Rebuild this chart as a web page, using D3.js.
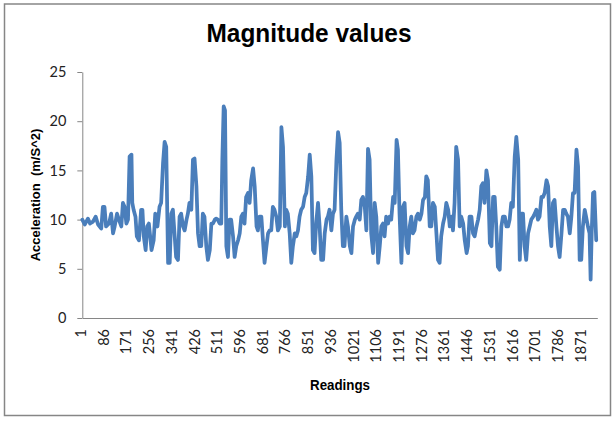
<!DOCTYPE html>
<html>
<head>
<meta charset="utf-8">
<script src="https://cdn.jsdelivr.net/npm/d3@7"></script>
<style>
  body { margin: 0; background: #fff; }
</style>
</head>
<body>
<div id="plot"></div>
<script>
// Readings (x) and acceleration magnitude (y)
const readings = [
    1, 10, 22, 30, 41, 51, 60, 72, 78, 84, 90, 101, 109, 116, 122, 131, 138, 147, 153, 159,
    166, 172, 178, 185, 188, 193, 200, 205, 213, 221, 226, 231, 238, 244, 250, 255, 260, 268, 274, 282,
    290, 296, 303, 309, 315, 322, 328, 334, 340, 346, 352, 359, 365, 371, 378, 384, 391, 396, 402, 409,
    415, 421, 428, 434, 440, 446, 452, 458, 465, 471, 478, 484, 490, 497, 502, 508, 515, 521, 525, 530,
    535, 540, 546, 552, 558, 565, 571, 577, 584, 590, 596, 602, 608, 614, 621, 627, 633, 640, 646, 653,
    658, 664, 671, 677, 683, 690, 696, 702, 708, 714, 720, 727, 733, 740, 746, 752, 759, 764, 770, 777,
    783, 789, 796, 802, 808, 814, 820, 827, 833, 839, 846, 852, 858, 864, 870, 876, 883, 889, 895, 902,
    908, 915, 920, 926, 933, 939, 945, 952, 958, 964, 970, 976, 982, 989, 995, 1002, 1008, 1014, 1021, 1026,
    1032, 1039, 1045, 1051, 1058, 1064, 1070, 1076, 1082, 1089, 1095, 1101, 1108, 1114, 1120, 1126, 1132, 1138, 1145, 1151,
    1157, 1164, 1170, 1177, 1182, 1188, 1195, 1201, 1207, 1214, 1220, 1226, 1232, 1238, 1244, 1251, 1257, 1264, 1270, 1276,
    1283, 1288, 1294, 1301, 1307, 1313, 1320, 1326, 1332, 1338, 1344, 1351, 1357, 1363, 1370, 1376, 1382, 1388, 1394, 1400,
    1407, 1413, 1419, 1426, 1432, 1439, 1444, 1450, 1457, 1463, 1469, 1476, 1482, 1488, 1494, 1500, 1506, 1513, 1519, 1526,
    1532, 1538, 1544, 1550, 1556, 1563, 1569, 1575, 1582, 1588, 1594, 1600, 1606, 1612, 1619, 1625, 1632, 1638, 1644, 1650,
    1656, 1662, 1669, 1675, 1681, 1688, 1694, 1700, 1706, 1712, 1719, 1725, 1731, 1738, 1744, 1750, 1756, 1762, 1768, 1775,
    1781, 1787, 1794, 1800, 1806, 1812, 1818, 1825, 1831, 1837, 1843, 1850, 1856, 1862, 1868, 1874, 1881, 1886, 1893, 1899,
    1903, 1907, 1912, 1917, 1924
];
const magnitude = [
    10.0, 9.5, 10.1, 9.6, 9.8, 10.3, 9.5, 9.1, 11.3, 11.3, 9.3, 9.6, 10.6, 8.6, 9.3, 10.6, 10.0, 9.3, 11.7, 11.3,
    9.6, 10.0, 16.4, 16.6, 11.7, 11.0, 10.3, 8.3, 7.9, 11.0, 11.0, 8.3, 6.9, 9.3, 9.6, 8.3, 6.9, 7.9, 10.6, 9.3,
    11.3, 11.7, 15.7, 17.9, 17.4, 5.6, 5.6, 10.6, 11.0, 8.6, 6.2, 5.9, 10.3, 10.6, 9.3, 8.9, 10.0, 10.6, 11.7, 11.0,
    16.1, 16.2, 13.4, 8.6, 7.3, 7.3, 10.6, 10.3, 7.3, 5.9, 6.9, 9.6, 9.6, 10.0, 10.1, 10.0, 9.6, 9.6, 16.1, 21.5,
    21.1, 7.3, 6.2, 10.0, 10.0, 8.3, 6.2, 7.3, 7.9, 8.6, 10.3, 10.6, 9.6, 12.3, 12.7, 11.7, 14.0, 15.2, 13.4, 9.3,
    8.9, 10.3, 10.3, 7.9, 5.6, 7.3, 8.6, 8.9, 8.9, 11.3, 11.0, 10.3, 8.9, 9.3, 19.4, 17.4, 9.3, 11.0, 10.6, 8.6,
    5.6, 7.3, 8.6, 8.3, 8.9, 10.3, 11.0, 11.3, 12.3, 12.7, 14.4, 16.6, 14.4, 6.9, 6.6, 9.6, 11.7, 9.3, 5.9, 5.9,
    8.6, 10.0, 10.3, 11.0, 8.9, 10.6, 11.0, 16.1, 18.9, 17.8, 11.0, 7.3, 7.3, 10.3, 9.3, 7.3, 6.6, 9.3, 10.0, 10.3,
    10.6, 10.0, 12.0, 12.3, 11.3, 8.9, 17.2, 16.1, 8.6, 6.6, 11.7, 10.3, 5.6, 7.3, 9.3, 9.6, 8.3, 10.3, 9.6, 10.3,
    10.0, 12.3, 11.7, 18.1, 17.1, 10.6, 5.6, 11.3, 11.7, 7.3, 6.6, 9.3, 10.3, 8.6, 8.9, 10.3, 10.6, 10.0, 10.6, 12.0,
    12.3, 14.4, 14.0, 9.3, 9.3, 11.7, 11.3, 8.6, 5.9, 5.6, 8.3, 9.6, 10.3, 11.7, 11.0, 9.3, 10.3, 8.9, 11.7, 17.4,
    16.1, 9.3, 10.3, 9.6, 7.9, 6.6, 7.3, 10.3, 10.3, 8.6, 8.3, 9.3, 10.0, 11.0, 13.4, 13.7, 11.7, 15.0, 14.0, 7.6,
    7.3, 12.3, 12.3, 9.3, 5.2, 4.9, 9.3, 10.3, 10.3, 9.3, 9.3, 10.0, 11.7, 11.3, 16.4, 18.4, 16.1, 5.9, 10.6, 10.6,
    7.3, 5.9, 8.6, 9.3, 10.0, 10.3, 10.6, 11.0, 10.0, 10.3, 12.3, 12.3, 12.7, 14.0, 13.4, 9.3, 7.3, 11.7, 12.0, 9.3,
    7.3, 6.2, 8.6, 11.0, 11.0, 10.6, 10.3, 8.6, 10.3, 12.7, 12.7, 17.1, 15.4, 5.9, 5.9, 9.3, 11.0, 10.3, 9.3, 8.6,
    3.9, 8.6, 12.7, 12.8, 7.9
];
const yTicks = [0, 5, 10, 15, 20, 25];
const xTickLabels = [1, 86, 171, 256, 341, 426, 511, 596, 681, 766, 851, 936, 1021, 1106, 1191,
    1276, 1361, 1446, 1531, 1616, 1701, 1786, 1871];
const lastReading = 1928;

const data = readings.map((r, i) => ({r: r, v: magnitude[i]}));

const svg = d3.select("#plot").append("svg")
    .attr("width", 614)
    .attr("height", 421);

// chart border
svg.append("rect")
    .attr("x", 4.5)
    .attr("y", 4)
    .attr("width", 606)
    .attr("height", 411.5)
    .attr("fill", "white")
    .attr("stroke", "#868686")
    .attr("stroke-width", 1.5);

const left = 82.3, right = 597.3, top_y = 72, bottom = 318;

const x = d3.scaleLinear().domain([1, lastReading]).range([left, right]);
const y = d3.scaleLinear().domain([0, 25]).range([bottom, top_y]);

// y axis
const yAxis = svg.append("g")
    .attr("transform", `translate(${left},0)`)
    .call(d3.axisLeft(y).tickValues(yTicks).tickSize(5).tickSizeOuter(0).tickPadding(11));
yAxis.selectAll("path, line").attr("stroke", "#868686");
yAxis.selectAll("text")
    .attr("font-family", "Lato, 'Open Sans', sans-serif")
    .attr("font-size", 14.5)
    .attr("fill", "#222");

// x axis
const xAxis = svg.append("g")
    .attr("transform", `translate(0,${bottom})`)
    .call(d3.axisBottom(x).tickValues(xTickLabels).tickFormat(d3.format("d"))
        .tickSize(0).tickSizeOuter(0));
xAxis.select("path").attr("stroke", "#868686");
xAxis.selectAll("text")
    .attr("font-family", "Lato, 'Open Sans', sans-serif")
    .attr("font-size", 14.5)
    .attr("fill", "#222")
    .attr("text-anchor", "end")
    .attr("transform", "rotate(-90)")
    .attr("x", -11)
    .attr("y", 3.2)
    .attr("dy", "0");

// the series
svg.append("path")
    .datum(data)
    .attr("fill", "none")
    .attr("stroke", "#4a7ebb")
    .attr("stroke-width", 3.75)
    .attr("stroke-linejoin", "round")
    .attr("stroke-linecap", "round")
    .attr("d", d3.line().x(d => x(d.r)).y(d => y(d.v)));

// title
svg.append("text")
    .attr("x", 309)
    .attr("y", 42)
    .attr("text-anchor", "middle")
    .attr("font-family", "'Liberation Sans', Arial, sans-serif")
    .attr("font-weight", "bold")
    .attr("font-size", 26)
    .attr("textLength", 205)
    .attr("lengthAdjust", "spacingAndGlyphs")
    .text("Magnitude values");

// axis titles
svg.append("text")
    .attr("x", 340)
    .attr("y", 390)
    .attr("text-anchor", "middle")
    .attr("font-family", "'Liberation Sans', Arial, sans-serif")
    .attr("font-weight", "bold")
    .attr("font-size", 14)
    .attr("textLength", 60)
    .attr("lengthAdjust", "spacingAndGlyphs")
    .text("Readings");

svg.append("text")
    .attr("transform", "translate(40,195) rotate(-90)")
    .attr("text-anchor", "middle")
    .attr("font-family", "'Liberation Sans', Arial, sans-serif")
    .attr("font-weight", "bold")
    .attr("font-size", 13)
    .style("white-space", "pre")
    .text("Acceleration  (m/S^2)");
</script>
</body>
</html>
